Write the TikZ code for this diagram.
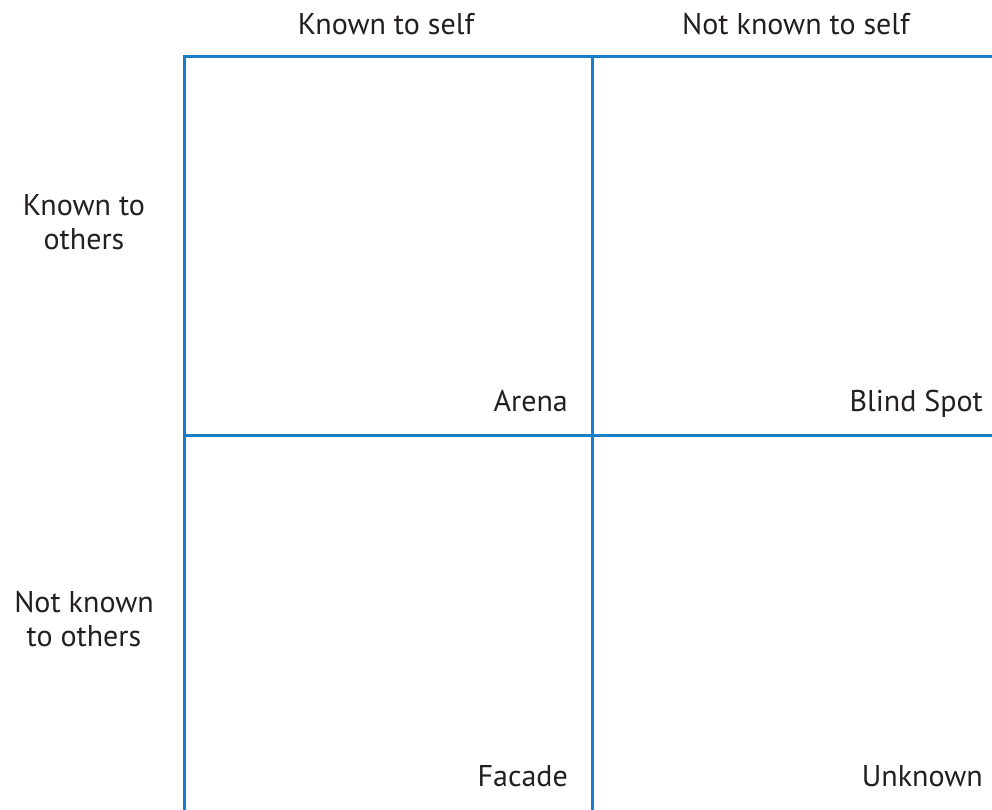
\documentclass[tikz,border=0pt]{standalone}
\usepackage{fontspec}
\setmainfont{PT Sans}
\definecolor{gridblue}{RGB}{24,128,200}
\definecolor{ink}{RGB}{35,31,32}
\begin{document}
\begin{tikzpicture}[x=1pt,y=-1pt,%
  every node/.style={font=\fontsize{30}{34}\selectfont,text=ink,inner sep=0pt},%
  head/.style={anchor=base},%
  side/.style={align=center,anchor=base},%
  quad/.style={anchor=base east},%
  gridline/.style={draw=gridblue,line width=3pt}]
  \useasboundingbox (0,0) rectangle (992,810);
  % corners of the window
  \coordinate (tl) at (184,57); \coordinate (tm) at (592,57);
  \coordinate (tr) at (994,57); \coordinate (ml) at (184,435);
  \coordinate (mr) at (994,435); \coordinate (bl) at (184,812);
  \coordinate (bm) at (592,812);
  \draw[gridline] (bl) -- (tl) -- (tr); \draw[gridline] (ml) -- (mr);
  \draw[gridline] (tm) -- (bm);
  % headings
  \node[head] (kself) at (386,35) {Known to self};
  \node[head] (nkself) at (796,35) {Not known to self};
  \node[side] (kothers) at (84,250) {Known to\\others};
  \node[side] (nkothers) at (84,646) {Not known\\to others};
  % quadrant names
  \node[quad] (arena) at (568,411) {Arena};
  \node[quad] (blind) at (983,411) {Blind Spot};
  \node[quad] (facade) at (568,786) {Facade};
  \node[quad] (unknown) at (983,786) {Unknown};
\end{tikzpicture}
\end{document}
